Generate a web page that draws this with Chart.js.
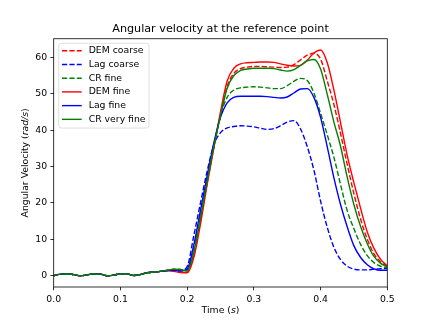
<!DOCTYPE html>
<html>
<head>
<meta charset="utf-8">
<script src="https://cdn.jsdelivr.net/npm/chart.js@4/dist/chart.umd.min.js"></script>
<style>
  html, body { margin: 0; padding: 0; background: #fff; }
  canvas { display: block; }
</style>
</head>
<body>
<canvas id="grafico" width="430" height="323"></canvas>
<script>
// time samples (s)
const times = [0.00, 0.01, 0.02, 0.03, 0.04, 0.05, 0.06, 0.07, 0.08, 0.09,
  0.10, 0.11, 0.12, 0.13, 0.14, 0.15, 0.16, 0.17, 0.18, 0.19,
  0.20, 0.21, 0.22, 0.23, 0.24, 0.25, 0.26, 0.27, 0.28, 0.29,
  0.30, 0.31, 0.32, 0.33, 0.34, 0.35, 0.36, 0.37, 0.38, 0.39,
  0.40, 0.41, 0.42, 0.43, 0.44, 0.45, 0.46, 0.47, 0.48, 0.49, 0.50];

// angular velocity (rad/s)
const demCoarse = [0, 0.45, 0.55, 0.3, 0.0, 0.2, 0.55, 0.45, 0.0, 0.15,
  0.55, 0.5, 0.05, 0.35, 0.8, 1.0, 1.2, 1.45, 1.3, 1.0,
  1.0, 6, 15.5, 25.5, 35.3, 44, 52, 55.6, 56.9, 57.3,
  57.5, 57.5, 57.4, 57.3, 57.2, 57.3, 58.0, 59.3, 60.6, 61.1,
  59.5, 53.5, 47, 39, 30.5, 22.5, 15.5, 10, 6, 3.8, 2.5];
const lagCoarse = [0, 0.45, 0.55, 0.3, 0.0, 0.2, 0.55, 0.45, 0.0, 0.15,
  0.55, 0.5, 0.05, 0.35, 0.8, 1.0, 1.2, 1.45, 1.6, 1.4,
  2.5, 11, 20, 28.7, 36, 39.3, 40.6, 41.0, 41.2, 41.1,
  40.9, 40.5, 40.2, 40.4, 41.2, 42.2, 42.6, 40.3, 35.5, 29,
  20.5, 13.3, 7.8, 4.4, 2.6, 1.8, 1.6, 1.6, 1.8, 1.9, 2.0];
const crFine = [0, 0.45, 0.55, 0.3, 0.0, 0.2, 0.55, 0.45, 0.0, 0.15,
  0.55, 0.5, 0.05, 0.35, 0.8, 1.0, 1.2, 1.45, 1.8, 1.7,
  1.5, 7.5, 17, 26.5, 35.8, 44, 49, 51, 51.6, 51.8,
  51.9, 51.8, 51.6, 51.4, 51.4, 52.2, 53.4, 54.2, 53.6, 50.2,
  44.6, 38.7, 32.5, 25, 17.8, 12.9, 8.6, 5.5, 3.6, 2.6, 2.2];
const demFine = [0, 0.45, 0.55, 0.3, 0.0, 0.2, 0.55, 0.45, 0.0, 0.15,
  0.55, 0.5, 0.05, 0.35, 0.8, 1.0, 1.2, 1.4, 1.2, 0.9,
  0.8, 5, 14.2, 25, 35, 45, 53.5, 57, 58.2, 58.5,
  58.6, 58.7, 58.7, 58.6, 58.2, 57.8, 57.6, 57.8, 59.2, 61.2,
  62.0, 58.5, 51, 42, 33, 25.5, 18.5, 12, 7.5, 4.5, 2.7];
const lagFine = [0, 0.45, 0.55, 0.3, 0.0, 0.2, 0.55, 0.45, 0.0, 0.15,
  0.55, 0.5, 0.05, 0.35, 0.8, 1.0, 1.2, 1.45, 1.5, 1.3,
  1.8, 8.5, 18, 27.5, 36.5, 43.5, 47.5, 49.0, 49.3, 49.3,
  49.3, 49.3, 49.2, 49.0, 48.8, 49.1, 50.2, 51.3, 51.4, 49.0,
  43.5, 35.4, 26.9, 19.5, 13.4, 8.2, 5.0, 3.0, 1.9, 1.5, 1.5];
const crVeryFine = [0, 0.45, 0.55, 0.3, 0.0, 0.2, 0.55, 0.45, 0.0, 0.15,
  0.55, 0.5, 0.05, 0.35, 0.8, 1.0, 1.2, 1.5, 1.8, 1.7,
  1.3, 6.5, 16, 26, 35.5, 44, 51.5, 55, 56.4, 56.8,
  57.0, 57.0, 57.0, 56.9, 56.5, 56.2, 56.6, 57.8, 59.0, 59.4,
  56.8, 49.8, 42.2, 35.5, 27, 19.5, 13.5, 8.8, 5.3, 3.4, 2.5];

const seriesNames = ['DEM coarse', 'Lag coarse', 'CR fine', 'DEM fine', 'Lag fine', 'CR very fine'];
const seriesValues = [demCoarse, lagCoarse, crFine, demFine, lagFine, crVeryFine];
const xTicks = [0, 0.1, 0.2, 0.3, 0.4, 0.5];
const yTicks = [0, 10, 20, 30, 40, 50, 60];

const cores = ['#ff0000', '#0000ff', '#008000', '#ff0000', '#0000ff', '#008000'];
const dashed = [true, true, true, false, false, false];
const fonte = 'DejaVu Sans';

const datasets = seriesNames.map((nome, i) => ({
  label: nome,
  data: times.map((t, k) => ({ x: t, y: seriesValues[i][k] })),
  borderColor: cores[i],
  backgroundColor: cores[i],
  borderWidth: 1.4,
  borderDash: dashed[i] ? [5.2, 2.2] : [],
  pointRadius: 0,
  fill: false,
  cubicInterpolationMode: 'monotone',
  order: seriesNames.length - i // later series on top, like matplotlib
}));

// draws text with some italic pieces, centred on (cx, cy)
function drawMixed(ctx, parts, cx, cy, rotate) {
  ctx.save();
  ctx.translate(cx, cy);
  if (rotate) ctx.rotate(-Math.PI / 2);
  ctx.fillStyle = '#000';
  ctx.textBaseline = 'middle';
  ctx.textAlign = 'left';
  let total = 0;
  parts.forEach(p => {
    ctx.font = (p[1] ? 'italic ' : '') + '9.3px "' + fonte + '"';
    total += ctx.measureText(p[0]).width;
  });
  let x = -total / 2;
  parts.forEach(p => {
    ctx.font = (p[1] ? 'italic ' : '') + '9.3px "' + fonte + '"';
    ctx.fillText(p[0], x, 0);
    x += ctx.measureText(p[0]).width;
  });
  ctx.restore();
}

const extras = {
  id: 'extras',
  afterDraw(chart) {
    const ctx = chart.ctx;
    const a = chart.chartArea;

    // axes frame
    ctx.save();
    ctx.strokeStyle = '#000';
    ctx.lineWidth = 0.8;
    ctx.strokeRect(a.left, a.top, a.right - a.left, a.bottom - a.top);
    ctx.restore();

    // axis titles
    drawMixed(ctx, [['Time (', false], ['s', true], [')', false]], (a.left + a.right) / 2, 310.7, false);
    drawMixed(ctx, [['Angular Velocity (', false], ['rad/s', true], [')', false]], 25.7, (a.top + a.bottom) / 2, true);

    // legend box
    const bx = a.left + 5, by = a.top + 4.6, bw = 90.3, bh = 84.7, r = 2.5;
    ctx.save();
    ctx.beginPath();
    ctx.moveTo(bx + r, by);
    ctx.arcTo(bx + bw, by, bx + bw, by + bh, r);
    ctx.arcTo(bx + bw, by + bh, bx, by + bh, r);
    ctx.arcTo(bx, by + bh, bx, by, r);
    ctx.arcTo(bx, by, bx + bw, by, r);
    ctx.closePath();
    ctx.fillStyle = 'rgba(255,255,255,0.8)';
    ctx.fill();
    ctx.strokeStyle = 'rgba(204,204,204,0.8)';
    ctx.lineWidth = 0.8;
    ctx.stroke();

    chart.data.datasets.forEach((ds, i) => {
      const y = by + 7.4 + i * 13.72;
      ctx.beginPath();
      ctx.setLineDash(ds.borderDash);
      ctx.strokeStyle = ds.borderColor;
      ctx.lineWidth = 1.4;
      ctx.moveTo(bx + 3.3, y);
      ctx.lineTo(bx + 23, y);
      ctx.stroke();
      ctx.setLineDash([]);
      ctx.fillStyle = '#000';
      ctx.font = '9.3px "' + fonte + '"';
      ctx.textBaseline = 'middle';
      ctx.textAlign = 'left';
      ctx.fillText(ds.label, bx + 30, y);
    });
    ctx.restore();
  }
};

const ctx = document.getElementById('grafico').getContext('2d');
new Chart(ctx, {
  type: 'line',
  data: { datasets: datasets },
  options: {
    responsive: false,
    animation: false,
    events: [],
    layout: { padding: { left: 0, right: 42.7, top: 22, bottom: 0 } },
    plugins: {
      legend: { display: false },
      tooltip: { enabled: false },
      title: {
        display: true,
        fullSize: false,
        text: 'Angular velocity at the reference point',
        color: '#000',
        font: { family: fonte, size: 11.2, weight: 'normal' },
        padding: { top: 0.6, bottom: 2.7 }
      }
    },
    scales: {
      x: {
        type: 'linear',
        min: 0,
        max: 0.5,
        afterBuildTicks: scale => { scale.ticks = xTicks.map(v => ({ value: v })); },
        afterFit: scale => { scale.height = 36; },
        border: { display: false },
        grid: { display: true, drawOnChartArea: false, drawTicks: true, tickLength: 3.3, tickColor: '#000', tickWidth: 0.8 },
        ticks: {
          color: '#000',
          padding: 3.3,
          maxRotation: 0,
          font: { family: fonte, size: 9.3 },
          callback: v => Number(v).toFixed(1)
        }
      },
      y: {
        type: 'linear',
        min: -3.1,
        max: 65.1,
        afterBuildTicks: scale => { scale.ticks = yTicks.map(v => ({ value: v })); },
        afterFit: scale => { scale.width = 53.7; },
        border: { display: false },
        grid: { display: true, drawOnChartArea: false, drawTicks: true, tickLength: 3.3, tickColor: '#000', tickWidth: 0.8 },
        ticks: {
          color: '#000',
          padding: 3.3,
          font: { family: fonte, size: 9.3 },
          callback: v => String(v)
        }
      }
    }
  },
  plugins: [extras]
});
</script>
</body>
</html>
